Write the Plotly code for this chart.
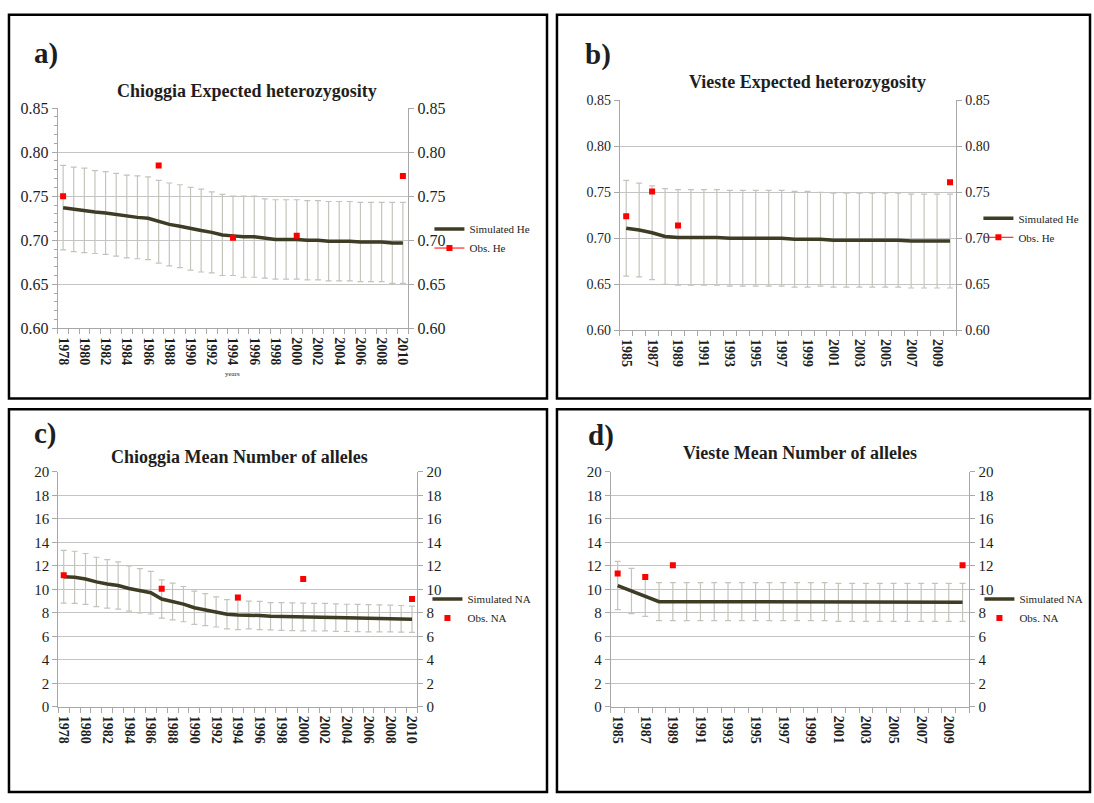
import plotly.graph_objects as go

# ---------------- data ----------------
chioggia_years = list(range(1978, 2011))
vieste_years = list(range(1985, 2011))

chioggia_he_mean = [0.737, 0.735, 0.734, 0.732, 0.731, 0.729, 0.727, 0.726, 0.725, 0.721, 0.718,
                    0.716, 0.713, 0.711, 0.709, 0.706, 0.705, 0.704, 0.704, 0.702, 0.701, 0.701,
                    0.701, 0.700, 0.700, 0.699, 0.699, 0.699, 0.698, 0.698, 0.698, 0.697, 0.697]
chioggia_he_err = [0.048, 0.048, 0.048, 0.047, 0.047, 0.047, 0.047, 0.047, 0.047, 0.047, 0.047,
                   0.047, 0.047, 0.047, 0.046, 0.046, 0.045, 0.046, 0.046, 0.045, 0.045, 0.045,
                   0.045, 0.045, 0.045, 0.045, 0.045, 0.045, 0.045, 0.045, 0.045, 0.046, 0.046]
chioggia_he_obs_years = [1978, 1987, 1994, 2000, 2010]
chioggia_he_obs = [0.750, 0.785, 0.703, 0.705, 0.773]

vieste_he_mean = [0.711, 0.709, 0.706, 0.702, 0.701, 0.701, 0.701, 0.701, 0.700, 0.700, 0.700,
                  0.700, 0.700, 0.699, 0.699, 0.699, 0.698, 0.698, 0.698, 0.698, 0.698, 0.698,
                  0.697, 0.697, 0.697, 0.697]
vieste_he_err = [0.052, 0.051, 0.051, 0.052, 0.052, 0.052, 0.052, 0.052, 0.052, 0.052, 0.052,
                 0.052, 0.052, 0.052, 0.052, 0.051, 0.051, 0.051, 0.051, 0.051, 0.051, 0.051,
                 0.051, 0.051, 0.051, 0.051]
vieste_he_obs_years = [1985, 1987, 1989, 2010]
vieste_he_obs = [0.724, 0.751, 0.714, 0.761]

chioggia_na_mean = [11.08, 11.03, 10.89, 10.64, 10.47, 10.33, 10.08, 9.89, 9.72, 9.18, 8.97,
                    8.75, 8.44, 8.28, 8.08, 7.89, 7.83, 7.82, 7.78, 7.72, 7.69, 7.67,
                    7.65, 7.64, 7.64, 7.60, 7.58, 7.57, 7.55, 7.54, 7.52, 7.50, 7.46]
chioggia_na_err = [2.25, 2.22, 2.17, 2.10, 2.07, 2.01, 1.93, 1.88, 1.81, 1.63, 1.56,
                   1.50, 1.41, 1.36, 1.28, 1.25, 1.25, 1.18, 1.20, 1.16, 1.18, 1.18,
                   1.18, 1.18, 1.17, 1.17, 1.16, 1.16, 1.16, 1.15, 1.14, 1.13, 1.12]
chioggia_na_obs_years = [1978, 1987, 1994, 2000, 2010]
chioggia_na_obs = [11.20, 10.06, 9.31, 10.89, 9.19]

vieste_na_mean = [10.33, 9.87, 9.43, 8.96, 8.96, 8.96, 8.96, 8.96, 8.96, 8.96, 8.96,
                  8.96, 8.96, 8.96, 8.96, 8.96, 8.90, 8.90, 8.90, 8.90, 8.90, 8.90,
                  8.90, 8.90, 8.90, 8.90]
vieste_na_err = [2.05, 1.93, 1.72, 1.62, 1.62, 1.62, 1.62, 1.62, 1.62, 1.62, 1.62,
                 1.62, 1.62, 1.62, 1.62, 1.62, 1.62, 1.62, 1.62, 1.62, 1.62, 1.62,
                 1.62, 1.62, 1.62, 1.62]
vieste_na_obs_years = [1985, 1987, 1989, 2010]
vieste_na_obs = [11.35, 11.05, 12.05, 12.05]

# ---------------- style ----------------
W, H = 1094, 803
FONT = "Liberation Serif"
LINE_COLOR = "#3e3c24"
ERR_COLOR = "#c4c4bd"
GRID = "#c4c4c4"
AXIS = "#a8a8a8"
OBS = "#ff0000"
TXT = "#1e1e1e"


def px(x):
    return x / W


def py(y):
    return 1 - y / H


panels = [
    dict(letter="a)", title="Chioggia Expected heterozygosity", years=chioggia_years,
         mean=chioggia_he_mean, err=chioggia_he_err, obs_years=chioggia_he_obs_years,
         obs=chioggia_he_obs, sim="Simulated He", obsname="Obs. He", yr=[0.6, 0.85],
         dtick=0.05, fmt=".2f", minor=0.01, xd=[56, 407.7], yd=[102.3, 327.3],
         tick_font=16, letter_xy=(44, 46), title_xy=(246, 85), legend_xy=(429, 211),
         obs_line=True, years_label=(231, 374), border=(7, 7, 547, 399)),
    dict(letter="b)", title="Vieste Expected heterozygosity", years=vieste_years,
         mean=vieste_he_mean, err=vieste_he_err, obs_years=vieste_he_obs_years,
         obs=vieste_he_obs, sim="Simulated He", obsname="Obs. He", yr=[0.6, 0.85],
         dtick=0.05, fmt=".2f", minor=None, xd=[620, 958], yd=[94.3, 329.3],
         tick_font=14, letter_xy=(598, 47), title_xy=(808, 76), legend_xy=(980, 200),
         obs_line=True, years_label=None, border=(557, 7, 1092, 399)),
    dict(letter="c)", title="Chioggia Mean Number of alleles", years=chioggia_years,
         mean=chioggia_na_mean, err=chioggia_na_err, obs_years=chioggia_na_obs_years,
         obs=chioggia_na_obs, sim="Simulated NA", obsname="Obs. NA", yr=[0, 20],
         dtick=2, fmt="d", minor=None, xd=[56.5, 417], yd=[474, 714],
         tick_font=15, letter_xy=(44, 435), title_xy=(238, 459), legend_xy=(427, 589),
         obs_line=False, years_label=None, border=(7, 410, 547, 801)),
    dict(letter="d)", title="Vieste Mean Number of alleles", years=vieste_years,
         mean=vieste_na_mean, err=vieste_na_err, obs_years=vieste_na_obs_years,
         obs=vieste_na_obs, sim="Simulated NA", obsname="Obs. NA", yr=[0, 20],
         dtick=2, fmt="d", minor=None, xd=[611, 971], yd=[474, 714],
         tick_font=15, letter_xy=(601, 437), title_xy=(801, 455), legend_xy=(981, 589),
         obs_line=False, years_label=None, border=(557, 410, 1092, 801)),
]

fig = go.Figure()
layout = dict(width=W, height=H, margin=dict(l=0, r=0, t=0, b=0),
              paper_bgcolor="white", plot_bgcolor="white", showlegend=True,
              font=dict(family=FONT, color=TXT))
annotations = []
shapes = []

for i, p in enumerate(panels):
    n = i + 1
    xa = "x" if n == 1 else f"x{n}"
    ya = "y" if n == 1 else f"y{n}"
    ya_r = f"y{n + 4}"
    leg = "legend" if n == 1 else f"legend{n}"
    years = p["years"]

    # error bars (behind the line)
    fig.add_trace(go.Scatter(
        x=years, y=p["mean"], mode="markers", xaxis=xa, yaxis=ya,
        marker=dict(size=1, color="rgba(0,0,0,0)"),
        error_y=dict(type="data", array=p["err"], symmetric=True, color=ERR_COLOR,
                     thickness=1.2, width=3),
        showlegend=False, hoverinfo="skip", legend=leg))
    # simulated line
    fig.add_trace(go.Scatter(
        x=years, y=p["mean"], mode="lines", xaxis=xa, yaxis=ya, name=p["sim"],
        line=dict(color=LINE_COLOR, width=3.5), legend=leg))
    # observed values
    obs_map = dict(zip(p["obs_years"], p["obs"]))
    obs_full = [obs_map.get(yv) for yv in years]
    fig.add_trace(go.Scatter(
        x=years, y=obs_full, mode="lines+markers" if p["obs_line"] else "markers",
        xaxis=xa, yaxis=ya, name=p["obsname"], connectgaps=False,
        line=dict(color=OBS, width=1),
        marker=dict(symbol="square", size=6, color=OBS), legend=leg))
    # dummy trace for right axis
    fig.add_trace(go.Scatter(x=[years[0]], y=[None], xaxis=xa, yaxis=ya_r,
                             showlegend=False, hoverinfo="skip", mode="markers"))

    x0, x1 = p["xd"]
    y0, y1 = p["yd"]
    tickvals = years[::2]
    layout["xaxis" if n == 1 else f"xaxis{n}"] = dict(
        domain=[px(x0), px(x1)], anchor=ya, type="linear",
        range=[years[0] - 0.5, years[-1] + 0.5],
        tickmode="array", tickvals=tickvals, ticktext=[str(t) for t in tickvals],
        ticks="outside", ticklen=5, tickcolor="rgba(0,0,0,0)",
        tickangle=90, showgrid=False, zeroline=False,
        showline=True, linecolor=AXIS, linewidth=1,
        tickfont=dict(family=FONT, size=14, color=TXT, weight="bold"),
        minor=dict(tickmode="linear", tick0=years[0] - 0.5, dtick=1, ticks="outside",
                   ticklen=5, tickcolor=AXIS, showgrid=False))
    yleft = dict(
        domain=[py(y1), py(y0)], anchor=xa, range=p["yr"], tickmode="linear",
        tick0=p["yr"][0], dtick=p["dtick"], tickformat=p["fmt"],
        ticks="outside", ticklen=5, tickcolor=AXIS, showgrid=True, gridcolor=GRID,
        gridwidth=1, zeroline=False, showline=True, linecolor=AXIS, linewidth=1,
        tickfont=dict(family=FONT, size=p["tick_font"], color=TXT))
    if p["minor"]:
        yleft["minor"] = dict(dtick=p["minor"], ticks="outside", ticklen=3,
                              tickcolor=AXIS, showgrid=False)
    layout["yaxis" if n == 1 else f"yaxis{n}"] = yleft
    layout[f"yaxis{n + 4}"] = dict(
        overlaying=ya, anchor=xa, side="right", range=p["yr"], tickmode="linear",
        tick0=p["yr"][0], dtick=p["dtick"], tickformat=p["fmt"],
        ticks="outside", ticklen=5, tickcolor=AXIS, showgrid=False, zeroline=False,
        showline=True, linecolor=AXIS, linewidth=1,
        tickfont=dict(family=FONT, size=p["tick_font"], color=TXT))

    lx, ly = p["legend_xy"]
    layout[leg] = dict(x=px(lx), y=py(ly), xanchor="left", yanchor="top",
                       bgcolor="rgba(0,0,0,0)", borderwidth=0, itemwidth=30,
                       font=dict(family=FONT, size=11, color=TXT),
                       tracegroupgap=0, itemclick=False)

    ax, ay = p["letter_xy"]
    annotations.append(dict(text=f"<b>{p['letter']}</b>", x=px(ax), y=py(ay),
                            xref="paper", yref="paper", showarrow=False,
                            xanchor="center", yanchor="middle",
                            font=dict(family=FONT, size=29, color=TXT)))
    tx, ty = p["title_xy"]
    annotations.append(dict(text=f"<b>{p['title']}</b>", x=px(tx), y=py(ty),
                            xref="paper", yref="paper", showarrow=False,
                            xanchor="center", yanchor="middle",
                            font=dict(family=FONT, size=18, color=TXT)))
    if p["years_label"]:
        yx, yy = p["years_label"]
        annotations.append(dict(text="years", x=px(yx), y=py(yy), xref="paper",
                                yref="paper", showarrow=False, xanchor="center",
                                yanchor="middle", font=dict(family=FONT, size=7, color=TXT)))
    bx0, by0, bx1, by1 = p["border"]
    shapes.append(dict(type="rect", xref="paper", yref="paper", x0=px(bx0), x1=px(bx1),
                       y0=py(by1), y1=py(by0), line=dict(color="black", width=2.5),
                       fillcolor="rgba(0,0,0,0)", layer="above"))

layout["annotations"] = annotations
layout["shapes"] = shapes
fig.update_layout(**layout)
fig.write_html("out.html")
